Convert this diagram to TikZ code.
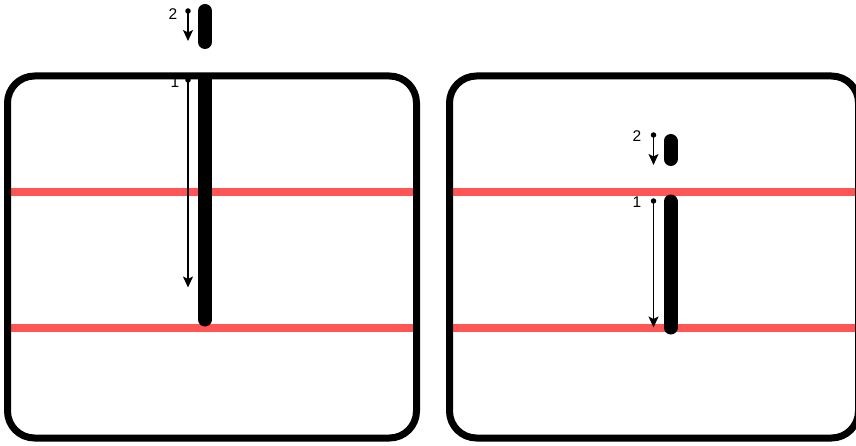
\documentclass[tikz,border=0pt]{standalone}
\usepackage{fontspec}
\setmainfont{Liberation Sans}
\usetikzlibrary{arrows.meta}

\definecolor{guidered}{HTML}{FF5555}

\begin{document}
\begin{tikzpicture}[
    x=1pt, y=-1pt,
    frame/.style={line width=7pt, rounded corners=27pt},
    guide/.style={line width=8pt, draw=guidered},
    bar/.style={line width=14pt, line cap=round},
    arr/.style={
        -{Stealth[length=11pt,width=10pt,inset=2.5pt]},
        line width=1.6pt
    },
    dot/.style={circle, fill, inner sep=0pt, minimum size=5.5pt},
    num/.style={font=\fontsize{15.5}{15.5}\selectfont, inner sep=0pt},
]
\useasboundingbox (0,0) rectangle (856,446);
\clip (0,0) rectangle (856,446);

% LEFT PANEL
\node[num] (l-one) at (175,82) {1};
\draw[guide] (4,192.5) -- (420,192.5);
\draw[guide] (4,328) -- (420,328);
\draw[frame] (7.5,76) rectangle (416.5,438);

% bar hangs from the top edge, flat at the top
\draw[bar, line cap=butt] (205,76) -- (205,319.5);
\fill (205,319.5) circle (7pt);
\draw[bar] (205,11) -- (205,42);

\node[num] (l-two) at (173,14) {2};
\node[dot] (l-two-s) at (188,11) {};
\coordinate (l-two-e) at (188,41);
\draw[arr] (l-two-s.center) -- (l-two-e);

\node[dot] (l-one-s) at (188,80) {};
\coordinate (l-one-e) at (188,287.5);
\draw[arr] (l-one-s.center) -- (l-one-e);

% RIGHT PANEL
\draw[guide] (446,192.5) -- (862,192.5);
\draw[guide] (446,328) -- (862,328);
\draw[frame] (449.5,76) rectangle (858.5,438);

\draw[bar] (670.5,141) -- (670.5,159);
\draw[bar] (670.5,201.5) -- (670.5,327.5);

\node[num] (r-two) at (637,136) {2};
\node[dot] (r-two-s) at (653.5,135) {};
\coordinate (r-two-e) at (653.5,165);
\draw[arr] (r-two-s.center) -- (r-two-e);

\node[num] (r-one) at (637,202) {1};
\node[dot] (r-one-s) at (653.5,201) {};
\coordinate (r-one-e) at (653.5,327.5);
\draw[arr] (r-one-s.center) -- (r-one-e);

\end{tikzpicture}
\end{document}
